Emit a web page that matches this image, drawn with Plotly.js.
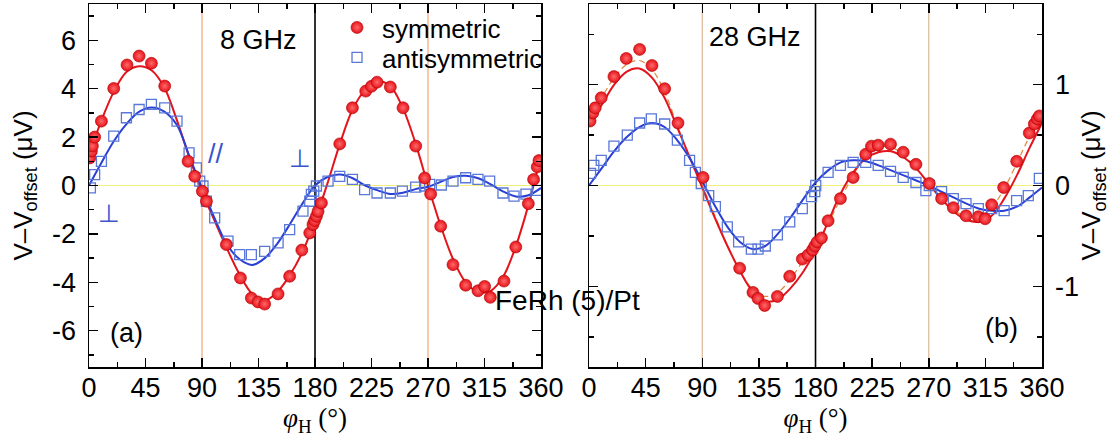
<!DOCTYPE html>
<html>
<head>
<meta charset="utf-8">
<script src="https://cdn.plot.ly/plotly-3.0.1.min.js"></script>
<style>html,body{margin:0;padding:0;background:#fff;}#chart{width:1113px;height:445px;}</style>
</head>
<body>
<div id="chart"></div>
<script>
// ---------- data ----------
// Panel (a): 8 GHz
const angA_sym = [0.6, 1.9, 2.7, 4.5, 9.9, 19.7, 30.3, 39.9, 49.7, 60.3, 78.9, 84.2, 90.3, 93.5, 109.4, 120.6, 129.3, 134.6, 139.9, 150.6, 159.8, 169.5, 175.8, 178.4, 179.7, 181.1, 182.4, 185.1, 199.7, 209.8, 220.4, 225.0, 229.4, 240.0, 250.1, 260.2, 267.3, 272.1, 280.1, 289.9, 300.0, 309.8, 315.1, 319.6, 330.5, 339.9, 349.9, 354.1, 357.0, 358.4];
const valA_sym = [1.14, 1.42, 1.63, 2.0, 2.66, 4.01, 4.98, 5.35, 5.05, 4.11, 1.0, 0.38, -0.24, -0.65, -2.44, -3.82, -4.65, -4.81, -4.9, -4.48, -3.75, -2.67, -1.96, -1.61, -1.45, -1.27, -1.07, -0.72, 1.72, 3.21, 3.9, 4.1, 4.27, 4.07, 3.21, 1.63, 0.31, -0.35, -1.68, -3.27, -4.12, -4.35, -4.17, -4.62, -3.95, -2.54, -0.75, 0.25, 0.77, 1.03];
const angA_anti = [1.1, 4.5, 9.9, 19.7, 29.8, 39.9, 49.7, 60.3, 70.1, 79.7, 85.5, 88.2, 90.8, 93.5, 100.1, 110.7, 120.0, 129.3, 139.9, 150.6, 159.8, 170.4, 175.8, 177.1, 179.0, 181.1, 190.4, 199.7, 209.8, 219.5, 229.4, 240.0, 249.6, 260.2, 267.3, 271.3, 280.6, 289.9, 300.0, 309.8, 319.1, 329.7, 338.5, 348.0, 357.0];
const valA_anti = [-0.1, 0.45, 1.0, 2.04, 2.8, 3.14, 3.35, 3.21, 2.66, 1.35, 0.73, 0.18, -0.02, -0.65, -1.34, -2.3, -2.86, -2.86, -2.72, -2.37, -1.82, -1.06, -0.65, -0.37, -0.23, -0.02, 0.18, 0.38, 0.25, -0.17, -0.31, -0.31, -0.23, -0.07, -0.02, 0.05, 0.02, 0.18, 0.32, 0.25, 0.18, -0.31, -0.44, -0.36, -0.2];

// fitted curves, read every 10 degrees
const fitAngles = [0, 10, 20, 30, 40, 50, 60, 70, 80, 90, 100, 110, 120, 130, 140, 150, 160, 170, 180, 190, 200, 210, 220, 230, 240, 250, 260, 270, 280, 290, 300, 310, 320, 330, 340, 350, 360];
const fitA_sym = [1.25, 2.7, 3.9, 4.7, 4.93, 4.75, 4.05, 2.7, 1.15, -0.25, -1.45, -2.62, -3.68, -4.48, -4.75, -4.4, -3.7, -2.75, -1.45, 0.1, 1.75, 3.15, 3.95, 4.3, 4.1, 3.2, 1.75, 0.0, -1.65, -3.05, -4.0, -4.4, -4.35, -3.75, -2.5, -0.8, 1.25];
const fitA_anti = [0, 0.95, 1.85, 2.55, 3.05, 3.22, 3.05, 2.5, 1.2, -0.1, -1.35, -2.45, -3.05, -3.28, -3.0, -2.4, -1.6, -0.75, 0.0, 0.35, 0.45, 0.3, 0.0, -0.2, -0.35, -0.3, -0.15, -0.05, 0.15, 0.35, 0.4, 0.3, 0.05, -0.25, -0.45, -0.4, -0.1];

// Panel (b): 28 GHz
const angB_sym = [0.8, 3.0, 4.9, 9.7, 19.8, 29.6, 40.2, 50.0, 60.1, 70.7, 90.6, 119.7, 130.3, 134.3, 139.6, 149.7, 159.5, 169.5, 174.1, 177.6, 179.4, 181.3, 184.7, 190.0, 199.8, 209.9, 219.9, 224.5, 229.8, 239.6, 249.7, 259.8, 270.4, 280.2, 289.5, 299.6, 309.4, 314.8, 320.0, 329.5, 339.9, 349.9, 353.9, 356.3, 357.9];
const valB_sym = [0.64, 0.72, 0.77, 0.87, 1.08, 1.26, 1.35, 1.19, 0.96, 0.62, 0.08, -0.82, -1.06, -1.12, -1.19, -1.10, -0.90, -0.73, -0.69, -0.64, -0.60, -0.56, -0.52, -0.35, -0.13, 0.08, 0.31, 0.39, 0.40, 0.41, 0.33, 0.21, 0.02, -0.13, -0.22, -0.30, -0.31, -0.33, -0.19, -0.02, 0.24, 0.52, 0.61, 0.66, 0.69];
const angB_anti = [1.2, 3.8, 9.7, 19.8, 30.4, 40.2, 49.5, 60.1, 70.2, 79.9, 84.5, 89.2, 95.1, 100.4, 109.9, 118.9, 129.0, 134.3, 140.1, 149.7, 159.5, 169.5, 176.8, 179.4, 180.2, 190.0, 199.8, 209.9, 219.9, 229.8, 239.6, 249.7, 259.8, 267.7, 270.4, 280.2, 289.5, 299.6, 309.4, 320.0, 329.9, 339.8, 349.1, 357.9];
const valB_anti = [0.12, 0.20, 0.25, 0.39, 0.50, 0.62, 0.66, 0.61, 0.45, 0.25, 0.13, 0.02, -0.10, -0.21, -0.41, -0.56, -0.63, -0.63, -0.60, -0.49, -0.36, -0.23, -0.11, -0.06, 0.0, 0.13, 0.20, 0.23, 0.23, 0.20, 0.14, 0.08, 0.03, -0.05, 0.0, -0.06, -0.13, -0.18, -0.23, -0.23, -0.25, -0.15, -0.10, 0.07];
const fitB_sym = [0.63, 0.8, 1.0, 1.13, 1.16, 1.07, 0.87, 0.58, 0.28, -0.02, -0.32, -0.6, -0.85, -1.05, -1.15, -1.13, -1.02, -0.86, -0.64, -0.36, -0.08, 0.13, 0.27, 0.33, 0.34, 0.28, 0.17, 0.02, -0.13, -0.26, -0.34, -0.36, -0.3, -0.13, 0.1, 0.37, 0.62];
const fitB_anti = [0, 0.17, 0.34, 0.48, 0.58, 0.62, 0.58, 0.45, 0.27, 0.04, -0.2, -0.41, -0.56, -0.63, -0.6, -0.48, -0.32, -0.14, 0.03, 0.15, 0.23, 0.25, 0.24, 0.2, 0.15, 0.1, 0.05, 0.0, -0.06, -0.12, -0.18, -0.23, -0.25, -0.25, -0.21, -0.12, -0.02];
const fitB_dash = [0.66, 0.87, 1.07, 1.2, 1.24, 1.15, 0.93, 0.6, 0.28, 0.0, -0.3, -0.6, -0.85, -1.03, -1.1, -1.06, -0.93, -0.75, -0.6, -0.38, -0.13, 0.1, 0.3, 0.38, 0.38, 0.3, 0.17, 0.01, -0.14, -0.25, -0.3, -0.31, -0.22, -0.03, 0.22, 0.48, 0.66];

// ticks and reference lines
const xTicks = [0, 45, 90, 135, 180, 225, 270, 315, 360];
const xTickText = ['0', '45', '90', '135', '180', '225', '270', '315', '360'];
const yTicksA = [-6, -4, -2, 0, 2, 4, 6];
const yTickTextA = ['-6', '-4', '-2', '0', '2', '4', '6'];
const yTicksB = [-1, 0, 1];
const yTickTextB = ['-1', '0', '1'];
const refAngles = [90, 180, 270];

// ---------- styles ----------
const SANS = 'Liberation Sans, Arial, sans-serif';
const SERIF = 'Liberation Serif, Times New Roman, serif';
const RED = '#e3141b';
const BLUE_LINE = '#2a3fd6';
const BLUE_MK = '#5a78d8';
const TICK_SIZE = 27;

const redMarker = {symbol: 'circle', size: 12, color: '#e5121a',
  line: {color: '#b00000', width: 0.6}, gradient: {type: 'radial', color: '#ff6a6a'}};
const blueMarker = {symbol: 'square-open', size: 10, color: BLUE_MK, line: {width: 1.3, color: BLUE_MK}};

const traces = [
  {x: fitAngles, y: fitA_sym, xaxis: 'x', yaxis: 'y', mode: 'lines', line: {color: RED, width: 2, shape: 'spline'}, showlegend: false, hoverinfo: 'skip'},
  {x: fitAngles, y: fitA_anti, xaxis: 'x', yaxis: 'y', mode: 'lines', line: {color: BLUE_LINE, width: 2, shape: 'spline'}, showlegend: false, hoverinfo: 'skip'},
  {x: fitAngles, y: fitB_dash, xaxis: 'x2', yaxis: 'y2', mode: 'lines', line: {color: '#e0883a', width: 1.2, dash: '6px,4px', shape: 'spline'}, showlegend: false, hoverinfo: 'skip'},
  {x: fitAngles, y: fitB_sym, xaxis: 'x2', yaxis: 'y2', mode: 'lines', line: {color: RED, width: 2, shape: 'spline'}, showlegend: false, hoverinfo: 'skip'},
  {x: fitAngles, y: fitB_anti, xaxis: 'x2', yaxis: 'y2', mode: 'lines', line: {color: BLUE_LINE, width: 2, shape: 'spline'}, showlegend: false, hoverinfo: 'skip'},
  {x: angA_anti, y: valA_anti, xaxis: 'x', yaxis: 'y', mode: 'markers', marker: blueMarker, name: 'antisymmetric', legend: 'legend2'},
  {x: angA_sym, y: valA_sym, xaxis: 'x', yaxis: 'y', mode: 'markers', marker: redMarker, name: 'symmetric', legend: 'legend'},
  {x: angB_anti, y: valB_anti, xaxis: 'x2', yaxis: 'y2', mode: 'markers', marker: blueMarker, showlegend: false},
  {x: angB_sym, y: valB_sym, xaxis: 'x2', yaxis: 'y2', mode: 'markers', marker: redMarker, showlegend: false}
];

function xAxis(domain) {
  return {
    domain: domain, range: [0, 360], tickvals: xTicks, ticktext: xTickText,
    ticks: 'inside', ticklen: 9, tickwidth: 1.5, tickcolor: '#000',
    minor: {tick0: 0, dtick: 22.5, ticks: 'inside', ticklen: 5, tickwidth: 1.5, tickcolor: '#000'},
    showline: true, linecolor: '#000', linewidth: 1.5, mirror: 'allticks',
    showgrid: false, zeroline: false,
    tickfont: {family: SANS, size: TICK_SIZE, color: '#000'}, ticklabelstandoff: -4,
    title: {text: '<i>φ</i><sub>H</sub> (°)', font: {family: SERIF, size: 27, color: '#000'}, standoff: 4}
  };
}
function vLines(xref, yref) {
  return refAngles.map(a => ({
    type: 'line', xref: xref, yref: yref + ' domain', x0: a, x1: a, y0: 0, y1: 1, layer: 'below',
    line: {color: a === 180 ? '#000' : (xref === 'x' ? '#f2a57a' : '#dcb896'), width: a === 180 ? 1.6 : 1.2}
  }));
}
const shapes = [].concat(
  vLines('x', 'y'), vLines('x2', 'y2'),
  [{type: 'line', xref: 'x domain', yref: 'y', x0: 0, x1: 1, y0: 0, y1: 0, layer: 'below', line: {color: '#f2ee7a', width: 1.2}},
   {type: 'line', xref: 'x2 domain', yref: 'y2', x0: 0, x1: 1, y0: 0, y1: 0, layer: 'below', line: {color: '#f2ee7a', width: 1.2}}]
);

const txt = (size, color) => ({family: SANS, size: size, color: color || '#000'});
const annotations = [
  {xref: 'x', yref: 'y', x: 135, y: 6.0, text: '8 GHz', showarrow: false, font: txt(27)},
  {xref: 'x2', yref: 'y2', x: 132, y: 1.47, text: '28 GHz', showarrow: false, font: txt(27)},
  {xref: 'x', yref: 'y', x: 30, y: -6.1, text: '(a)', showarrow: false, font: txt(27)},
  {xref: 'x2', yref: 'y2', x: 328, y: -1.41, text: '(b)', showarrow: false, font: txt(27)},
  {xref: 'paper', yref: 'paper', x: 0.5016, y: 0.135, text: 'FeRh (5)/Pt', showarrow: false, font: txt(28)},
  {xref: 'x', yref: 'y', x: 101, y: 1.3, text: '//', showarrow: false, font: txt(27, '#3a55cc')},
  {xref: 'x', yref: 'y', x: 168.2, y: 1.1, text: '⊥', showarrow: false, font: {family: 'DejaVu Sans', size: 25, color: '#3a55cc'}},
  {xref: 'x', yref: 'y', x: 15.7, y: -1.15, text: '⊥', showarrow: false, font: {family: 'DejaVu Sans', size: 25, color: '#3a55cc'}}
];

const legendBase = {xanchor: 'left', yanchor: 'top', bgcolor: 'rgba(0,0,0,0)',
  font: {family: SANS, size: 26, color: '#000'}, itemwidth: 40, tracegroupgap: 0};

const layout = {
  width: 1113, height: 445,
  margin: {l: 89, r: 71, t: 4, b: 78, pad: 0},
  paper_bgcolor: '#fff', plot_bgcolor: '#fff',
  font: {family: SANS, color: '#000'},
  xaxis: xAxis([0, 0.4743]),
  xaxis2: Object.assign(xAxis([0.5247, 1]), {anchor: 'y2'}),
  yaxis: {
    domain: [0, 1], anchor: 'x', range: [-7.5, 7.5], tickvals: yTicksA, ticktext: yTickTextA,
    ticks: 'inside', ticklen: 9, tickwidth: 1.5, tickcolor: '#000',
    minor: {tick0: 0, dtick: 1, ticks: 'inside', ticklen: 5, tickwidth: 1.5, tickcolor: '#000'},
    showline: true, linecolor: '#000', linewidth: 1.5, mirror: 'allticks',
    showgrid: false, zeroline: false, tickfont: {family: SANS, size: TICK_SIZE}, ticklabelstandoff: 6,
    title: {text: 'V–V<sub>offset</sub> (μV)', font: {family: SANS, size: 26}, standoff: 12}
  },
  yaxis2: {
    domain: [0, 1], anchor: 'x2', side: 'right', range: [-1.8, 1.8], tickvals: yTicksB, ticktext: yTickTextB,
    ticks: 'inside', ticklen: 9, tickwidth: 1.5, tickcolor: '#000',
    minor: {tick0: 0, dtick: 0.5, ticks: 'inside', ticklen: 5, tickwidth: 1.5, tickcolor: '#000'},
    showline: true, linecolor: '#000', linewidth: 1.5, mirror: 'allticks',
    showgrid: false, zeroline: false, tickfont: {family: SANS, size: TICK_SIZE}, ticklabelstandoff: 6,
    title: {text: 'V–V<sub>offset</sub> (μV)', font: {family: SANS, size: 26}, standoff: 4}
  },
  legend: Object.assign({x: 0.255, y: 1}, legendBase),
  legend2: Object.assign({x: 0.255, y: 1 - 30 / 363}, legendBase),
  shapes: shapes,
  annotations: annotations,
  showlegend: true
};

Plotly.newPlot('chart', traces, layout, {displayModeBar: false, staticPlot: true});
</script>
</body>
</html>
